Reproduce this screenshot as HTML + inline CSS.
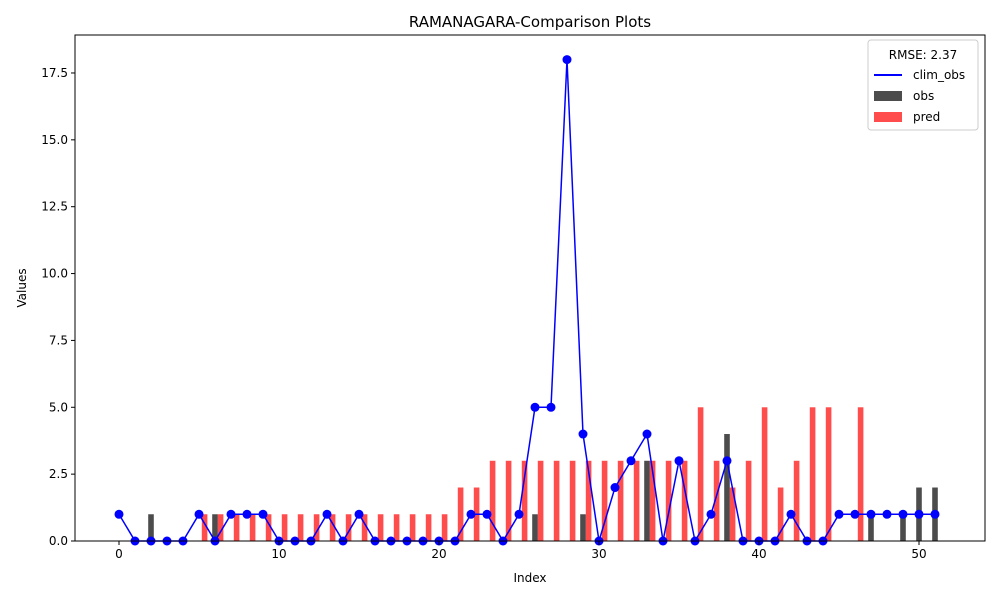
<!DOCTYPE html>
<html><head><meta charset="utf-8"><style>
body{margin:0;background:#fff;font-family:"Liberation Sans","DejaVu Sans",sans-serif;}
</style></head><body>
<svg id="chart" width="1000" height="600" xmlns="http://www.w3.org/2000/svg" font-family="DejaVu Sans, Liberation Sans, sans-serif">
<text x="530" y="27" font-size="15" text-anchor="middle">RAMANAGARA-Comparison Plots</text>
<g id="bars"></g><g id="line"></g><g id="axes"></g>
<g>
<rect x="868" y="40" width="110" height="90" fill="#fff" stroke="#ccc" rx="3"/>
<text x="923" y="59" font-size="12" text-anchor="middle">RMSE: 2.37</text>
<line x1="874" y1="75" x2="902" y2="75" stroke="#0000ff" stroke-width="2"/>
<text x="913" y="79" font-size="12">clim_obs</text>
<rect x="874" y="91" width="28" height="10" fill="#000" fill-opacity="0.7"/>
<text x="913" y="100" font-size="12">obs</text>
<rect x="874" y="112" width="28" height="10" fill="#f00" fill-opacity="0.7"/>
<text x="913" y="121" font-size="12">pred</text>
</g>
</svg>
<script>
const obs=[0,0,1,0,0,0,1,0,0,0,0,0,0,0,0,0,0,0,0,0,0,0,0,0,0,0,1,0,0,1,0,0,0,3,0,0,0,0,4,0,0,0,0,0,0,0,0,1,0,1,2,2];
const pred=[0,0,0,0,0,1,1,1,1,1,1,1,1,1,1,1,1,1,1,1,1,2,2,3,3,3,3,3,3,3,3,3,3,3,3,3,5,3,2,3,5,2,3,5,5,0,5,0,0,0,0,0];
const climObs=[1,0,0,0,0,1,0,1,1,1,0,0,0,1,0,1,0,0,0,0,0,0,1,1,0,1,5,5,18,4,0,2,3,4,0,3,0,1,3,0,0,0,1,0,0,1,1,1,1,1,1,1];
const xTicks=[0,10,20,30,40,50];
const yTicks=[0,2.5,5,7.5,10,12.5,15,17.5];
const NS="http://www.w3.org/2000/svg";
const L=75,R=985,T=35,B=541,xmin=-2.75,xmax=54.125,ymin=0,ymax=18.92;
const sx=v=>L+(v-xmin)/(xmax-xmin)*(R-L);
const sy=v=>B-(v-ymin)/(ymax-ymin)*(B-T);
function mk(tag,attrs,parent){const e=document.createElementNS(NS,tag);for(const k in attrs)e.setAttribute(k,attrs[k]);parent.appendChild(e);return e;}
const bars=document.getElementById('bars'),line=document.getElementById('line'),axes=document.getElementById('axes');
const bw=0.35;
obs.forEach((v,i)=>{if(v<=0)return;const r=mk('rect',{x:sx(i-bw/2),y:sy(v),width:sx(bw)-sx(0),height:sy(0)-sy(v),fill:'#000','fill-opacity':0.7},bars);

});
pred.forEach((v,i)=>{if(v<=0)return;const r=mk('rect',{x:sx(i+bw/2),y:sy(v),width:sx(bw)-sx(0),height:sy(0)-sy(v),fill:'#f00','fill-opacity':0.7},bars);

});
const pl=mk('polyline',{points:climObs.map((v,i)=>sx(i)+','+sy(v)).join(' '),fill:'none',stroke:'#0000ff','stroke-width':1.5},line);


climObs.forEach((v,i)=>{const c=mk('circle',{cx:sx(i),cy:sy(v),r:4.5,fill:'#0000ff'},line);

});
const fr=mk('rect',{x:L,y:T,width:R-L,height:B-T,fill:'none',stroke:'#000','stroke-width':1},axes);


xTicks.forEach(t=>{mk('line',{x1:sx(t),x2:sx(t),y1:B,y2:B+4,stroke:'#000'},axes);
const tx=mk('text',{x:sx(t),y:B+17,'font-size':12,'text-anchor':'middle'},axes);tx.textContent=t;

});
yTicks.forEach(t=>{mk('line',{x1:L-4,x2:L,y1:sy(t),y2:sy(t),stroke:'#000'},axes);
const tx=mk('text',{x:L-7,y:sy(t)+4,'font-size':12,'text-anchor':'end'},axes);tx.textContent=t.toFixed(1);

});
const xl=mk('text',{x:(L+R)/2,y:582,'font-size':12,'text-anchor':'middle'},axes);xl.textContent='Index';


const yl=mk('text',{x:26,y:(T+B)/2,'font-size':12,'text-anchor':'middle',transform:'rotate(-90 26 '+((T+B)/2)+')'},axes);yl.textContent='Values';


</script>
</body></html>
